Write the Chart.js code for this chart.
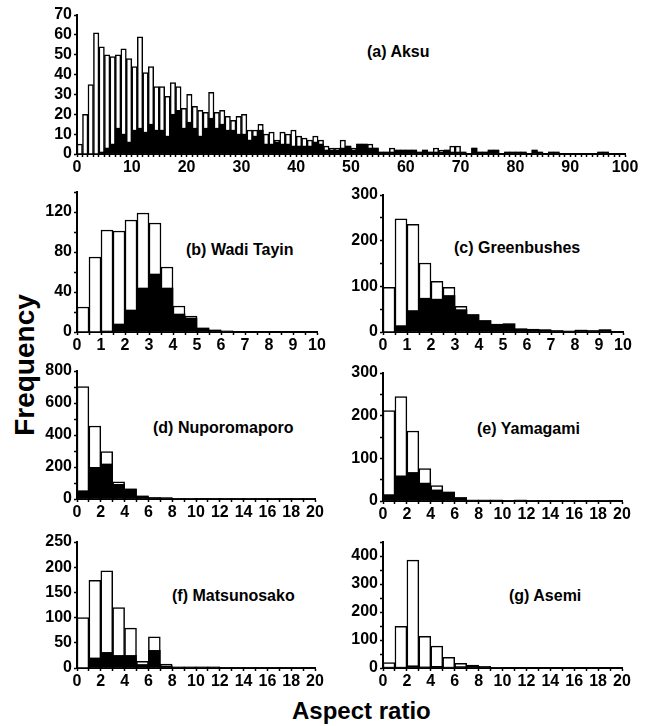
<!DOCTYPE html>
<html>
<head>
<meta charset="utf-8">
<script src="https://cdn.jsdelivr.net/npm/chart.js@4.4.1/dist/chart.umd.min.js"></script>
<style>
  body { margin: 0; background: #fff; }
  #fig { position: relative; width: 652px; height: 726px; font-family: "Liberation Sans", Arial, sans-serif; font-weight: bold; color: #000; }
  #fig canvas { position: absolute; }
  .lbl { position: absolute; font-size: 16px; line-height: 18px; white-space: nowrap; }
  .axt { position: absolute; font-size: 24px; line-height: 28px; white-space: nowrap; }
</style>
</head>
<body>
<div id="fig">
  <div class="lbl" style="left:367px;top:43px">(a) Aksu</div>
  <div class="lbl" style="left:186px;top:241px">(b) Wadi Tayin</div>
  <div class="lbl" style="left:454px;top:239px">(c) Greenbushes</div>
  <div class="lbl" style="left:153px;top:419px">(d) Nuporomaporo</div>
  <div class="lbl" style="left:477px;top:420px">(e) Yamagami</div>
  <div class="lbl" style="left:172px;top:587px">(f) Matsunosako</div>
  <div class="lbl" style="left:509px;top:587px">(g) Asemi</div>
  <div class="axt" style="left:292px;top:697px">Aspect ratio</div>
  <div class="axt" style="left:25px;top:365px;font-size:28px;transform:translate(-50%,-50%) rotate(-90deg)">Frequency</div>
</div>
<script>
// counts per bin (total = open bars, black = filled part)
// (a) Aksu, bins of 1 from 0 to 100
const akTotal = [5,20,35,61,54,50,49,50,53,48, 44,59,41,44,34,34,29,36,34,23,
  30,24,22,21,31,21,22,19,17,19, 20,12,12,15,10,11,7,11,10,12,
  9,8,7,9,7,4,3,3,7,4, 3,5,5,5,3,1,1,3,2,2,
  2,2,1,2,1,3,2,2,4,4, 1,0,3,1,1,2,2,0,1,1,
  1,1,0,2,1,0,1,1,0,0, 0,0,0,0,0,1,1,0,0,0];
const akBlack = [0,0,0,0,1,3,5,13,10,6, 12,13,11,15,12,12,9,20,22,13,
  16,13,9,13,18,13,15,12,12,10, 10,7,9,12,5,5,6,5,5,4,
  4,4,4,6,5,2,2,2,3,4, 2,5,5,3,3,1,1,1,2,2,
  2,2,1,2,1,1,1,2,1,1, 1,0,3,1,1,2,2,0,1,1,
  1,1,0,2,1,0,1,1,0,0, 0,0,0,0,0,1,1,0,0,0];
// (b) Wadi Tayin, bins of 0.5 from 0 to 10
const wtTotal = [25,75,102,101,112,119,109,65,26,16,4,2,1,0,0,0,0,0,0,0];
const wtBlack = [0,0,1,8,22,44,58,44,18,14,4,2,1,0,0,0,0,0,0,0];
// (c) Greenbushes, bins of 0.5 from 0 to 10
const gbTotal = [98,248,236,151,111,98,56,38,25,17,18,7,6,5,3,2,4,3,5,0];
const gbBlack = [0,14,47,74,72,80,49,38,25,17,18,7,6,5,3,2,4,3,5,0];
// (d) Nuporomaporo, bins of 1 from 0 to 20
const npTotal = [702,456,296,108,63,19,9,8,4,4,3,2,2,1,1,1,1,1,1,1];
const npBlack = [52,198,219,92,62,19,9,8,4,4,3,2,2,1,1,1,1,1,1,1];
// (e) Yamagami
const ymTotal = [212,245,164,76,36,21,8,2,2,2,1,2,1,1,1,1,1,1,1,0];
const ymBlack = [15,59,67,42,26,21,8,2,2,2,1,2,1,1,1,1,1,1,1,0];
// (f) Matsunosako
const msTotal = [100,174,193,120,79,13,62,8,2,2,2,2,1,1,1,1,1,1,1,0];
const msBlack = [0,20,31,25,25,7,35,4,2,2,2,2,1,1,1,1,1,1,1,0];
// (g) Asemi
const asTotal = [19,149,385,113,78,38,17,10,6,2,0,0,0,0,0,0,0,0,0,0];
const asBlack = [3,3,8,4,6,3,5,8,5,2,0,0,0,0,0,0,0,0,0,0];

const tickFont = { family: '"Liberation Sans", Arial, sans-serif', size: 16, weight: 'bold' };

function isMultiple(v, m) {
  return Math.abs(v / m - Math.round(v / m)) < 1e-6;
}

// box = chart area [left, top, right, bottom] in page pixels
function makePanel(total, black, bin, box, xMax, xStep, xLab, yMax, yStep, yLab) {
  const padL = 56, padT = 12, padR = 18, axH = 30;
  const cv = document.createElement('canvas');
  const w = box[2] - box[0] + padL + padR;
  const h = box[3] - box[1] + padT + axH;
  cv.width = w; cv.height = h;
  cv.style.left = (box[0] - padL) + 'px';
  cv.style.top = (box[1] - padT) + 'px';
  document.getElementById('fig').appendChild(cv);

  const axisGrid = { drawOnChartArea: false, offset: false, tickLength: 3, tickColor: '#000', tickWidth: 1.5 };
  new Chart(cv, {
    type: 'bar',
    data: {
      datasets: [
        { data: black.map((v, i) => ({ x: (i + 0.5) * bin, y: v })),
          backgroundColor: '#000', borderWidth: 0, order: 0 },
        { data: total.map((v, i) => ({ x: (i + 0.5) * bin, y: v })),
          backgroundColor: '#fff', borderColor: '#000', borderWidth: 1.5, order: 1 }
      ]
    },
    options: {
      responsive: false,
      animation: false,
      layout: { padding: { left: 0, top: padT, right: padR, bottom: 0 } },
      datasets: { bar: { grouped: false, barPercentage: 1, categoryPercentage: 1 } },
      scales: {
        x: {
          type: 'linear', min: 0, max: xMax, offset: false,
          afterFit: s => { s.height = axH; },
          ticks: { stepSize: xStep, autoSkip: false, maxRotation: 0, padding: 1, color: '#000', font: tickFont,
            callback: v => isMultiple(v, xLab) ? String(Math.round(v)) : '' },
          grid: axisGrid,
          border: { color: '#000', width: 2 }
        },
        y: {
          min: 0, max: yMax,
          afterFit: s => { s.width = padL; },
          ticks: { stepSize: yStep, autoSkip: false, padding: 2, color: '#000', font: tickFont,
            callback: v => isMultiple(v, yLab) ? String(Math.round(v)) : '' },
          grid: axisGrid,
          border: { color: '#000', width: 2 }
        }
      },
      plugins: { legend: { display: false }, tooltip: { enabled: false } }
    }
  });
}

makePanel(akTotal, akBlack, 1, [77, 15, 625, 154], 100, 1, 10, 70, 10, 10);
makePanel(wtTotal, wtBlack, 0.5, [77, 192, 317, 332], 10, 0.5, 1, 140, 20, 40);
makePanel(gbTotal, gbBlack, 0.5, [383, 195, 623, 332], 10, 0.5, 1, 300, 50, 100);
makePanel(npTotal, npBlack, 1, [77, 371, 315, 499], 20, 1, 2, 800, 100, 200);
makePanel(ymTotal, ymBlack, 1, [383, 373, 622, 501], 20, 1, 2, 300, 50, 100);
makePanel(msTotal, msBlack, 1, [77, 542, 315, 668], 20, 1, 2, 250, 50, 50);
makePanel(asTotal, asBlack, 1, [383, 542, 622, 668], 20, 1, 2, 450, 50, 100);
</script>
</body>
</html>
